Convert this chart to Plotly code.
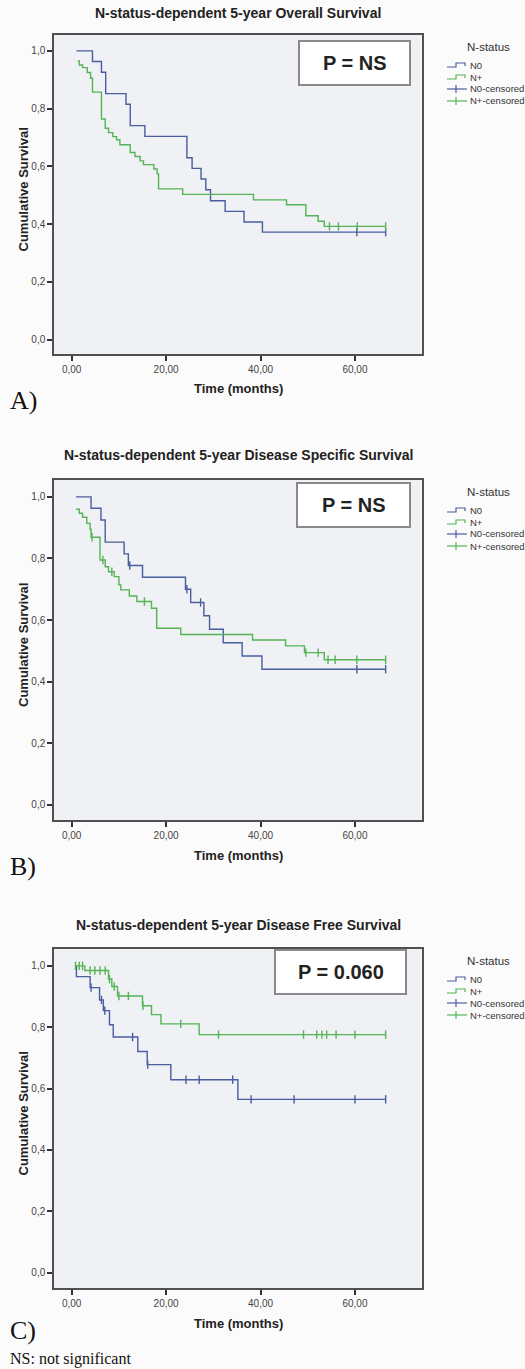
import numpy as np
import plotly.graph_objects as go

W, H = 525, 1369

# ---------------- data (months, cumulative survival) ----------------
# Panel A: Overall Survival
A_N0_time = [1.0, 4.4, 6.3, 7.2, 11.5, 12.4, 15.5, 24.4, 25.5, 27.4, 28.4, 29.4, 32.5, 36.5, 40.4]
A_N0_surv = [1.0, 0.963, 0.926, 0.852, 0.815, 0.741, 0.704, 0.630, 0.593, 0.556, 0.519, 0.481, 0.444, 0.407, 0.372]
A_N0_cens = [60.4, 66.5]
A_Np_time = [1.3, 1.6, 2.3, 3.3, 4.0, 4.4, 6.3, 7.1, 7.8, 8.7, 9.5, 10.2, 12.4, 13.4, 14.5, 15.2,
             17.4, 18.1, 18.4, 23.5, 38.5, 45.5, 49.6, 52.2, 53.5]
A_Np_surv = [0.965, 0.951, 0.942, 0.925, 0.905, 0.857, 0.764, 0.732, 0.717, 0.703, 0.692, 0.675,
             0.648, 0.634, 0.619, 0.606, 0.591, 0.574, 0.522, 0.503, 0.484, 0.467, 0.429, 0.410, 0.392]
A_Np_cens = [54.6, 56.5, 60.5, 66.5]

# Panel B: Disease Specific Survival
B_N0_time = [0.9, 4.1, 6.2, 7.1, 11.1, 12.0, 15.0, 24.1, 25.2, 28.0, 29.2, 32.1, 36.1, 40.3]
B_N0_surv = [1.0, 0.963, 0.925, 0.853, 0.815, 0.777, 0.739, 0.700, 0.657, 0.614, 0.570, 0.526, 0.483, 0.440]
B_N0_cens = [12.3, 24.4, 27.3, 60.4, 66.5]
B_Np_time = [0.9, 1.6, 2.3, 3.2, 3.9, 4.1, 6.0, 7.1, 7.8, 9.0, 10.0, 10.4, 12.2, 13.8, 16.9,
             18.0, 23.1, 38.3, 45.3, 49.3, 53.5]
B_Np_surv = [0.960, 0.947, 0.934, 0.914, 0.895, 0.869, 0.795, 0.773, 0.757, 0.741, 0.714, 0.698,
             0.678, 0.660, 0.638, 0.573, 0.553, 0.535, 0.516, 0.494, 0.471]
B_Np_cens = [4.3, 6.6, 8.5, 15.4, 49.6, 52.2, 54.3, 55.8, 60.4, 66.5]

# Panel C: Disease Free Survival
C_N0_time = [0.9, 1.0, 3.9, 5.9, 6.7, 8.0, 8.8, 14.0, 16.0, 21.0, 35.2]
C_N0_surv = [1.0, 0.965, 0.929, 0.889, 0.854, 0.808, 0.768, 0.721, 0.678, 0.629, 0.565]
C_N0_cens = [4.1, 6.3, 7.0, 12.9, 16.1, 24.2, 27.0, 34.1, 38.0, 47.1, 60.0, 66.5]
C_Np_time = [0.7, 2.8, 7.8, 8.5, 9.7, 15.0, 16.9, 18.9, 27.0]
C_Np_surv = [1.0, 0.985, 0.957, 0.933, 0.902, 0.870, 0.841, 0.811, 0.776]
C_Np_cens = [0.8, 1.6, 2.3, 3.9, 4.9, 6.0, 7.1, 8.0, 9.0, 10.0, 12.0, 15.1, 23.1, 31.1,
             49.1, 51.9, 53.0, 54.0, 56.0, 60.0, 66.5]

titles = ["N-status-dependent 5-year Overall Survival",
          "N-status-dependent 5-year Disease Specific Survival",
          "N-status-dependent 5-year Disease Free Survival"]
p_texts = ["P = NS", "P = NS", "P = 0.060"]
panel_labels = ["A)", "B)", "C)"]
legend_title = "N-status"
legend_labels = ["N0", "N+", "N0-censored", "N+-censored"]
y_tickvals = [0.0, 0.2, 0.4, 0.6, 0.8, 1.0]
y_ticktext = ["0,0", "0,2", "0,4", "0,6", "0,8", "1,0"]
x_tickvals = [0, 20, 40, 60]
x_ticktext = ["0,00", "20,00", "40,00", "60,00"]
footnote = "NS: not significant"

# ---------------- styling ----------------
BLUE = "#4a5d9f"
GREEN = "#55b455"
SANS = "Liberation Sans, Arial, sans-serif"
SERIF = "Liberation Serif, Times New Roman, serif"

def fx(px):
    return px / W

def fy(py):
    return 1 - py / H

# panel geometry in pixels: (top, bottom) of plot box, P-box, panel-label centre
panels = [
    dict(top=35, bottom=354, title_y=13, pbox=(299, 41, 410, 85), label_y=400),
    dict(top=480, bottom=820, title_y=455, pbox=(297, 483, 410, 527), label_y=866),
    dict(top=949, bottom=1288, title_y=925, pbox=(275, 950, 406, 994), label_y=1330),
]
PL, PR = 54, 422

data = [
    (A_N0_time, A_N0_surv, A_N0_cens, A_Np_time, A_Np_surv, A_Np_cens),
    (B_N0_time, B_N0_surv, B_N0_cens, B_Np_time, B_Np_surv, B_Np_cens),
    (C_N0_time, C_N0_surv, C_N0_cens, C_Np_time, C_Np_surv, C_Np_cens),
]

fig = go.Figure()


def step_xy(t, s, cens):
    end = max(cens) if cens else t[-1]
    return list(t) + [end], list(s) + [s[-1]]


def cens_levels(t, s, cens):
    t = np.asarray(t)
    s = np.asarray(s)
    idx = np.searchsorted(t, np.asarray(cens), side="right") - 1
    idx = np.clip(idx, 0, len(s) - 1)
    return s[idx].tolist()


annotations = []
shapes = []

for i, (panel, d) in enumerate(zip(panels, data)):
    k = "" if i == 0 else str(i + 1)
    xa, ya = "x" + k, "y" + k
    n0t, n0s, n0c, npt, nps, npc = d
    for (t, s, c, col) in [(n0t, n0s, n0c, BLUE), (npt, nps, npc, GREEN)]:
        xs, ys = step_xy(t, s, c)
        fig.add_trace(go.Scatter(x=xs, y=ys, mode="lines", line=dict(color=col, width=1.4, shape="hv"),
                                 xaxis=xa, yaxis=ya, showlegend=False, hoverinfo="skip"))
    for (t, s, c, col) in [(n0t, n0s, n0c, BLUE), (npt, nps, npc, GREEN)]:
        fig.add_trace(go.Scatter(x=c, y=cens_levels(t, s, c), mode="markers",
                                 marker=dict(symbol="line-ns", size=6, line=dict(color=col, width=1.4)),
                                 xaxis=xa, yaxis=ya, showlegend=False, hoverinfo="skip"))

    dom_y = [fy(panel["bottom"]), fy(panel["top"])]
    axis_common = dict(showline=True, mirror=True, linecolor="#505050", linewidth=1.5,
                       ticks="outside", ticklen=5, tickwidth=1.5, tickcolor="#333",
                       showgrid=False, zeroline=False,
                       tickfont=dict(family=SANS, size=10, color="#444"))
    fig.update_layout(**{
        "xaxis" + k: dict(domain=[fx(PL), fx(PR)], anchor=ya, range=[-3.75, 74.2],
                          tickvals=x_tickvals, ticktext=x_ticktext, **axis_common),
        "yaxis" + k: dict(domain=dom_y, anchor=xa, range=[-0.05, 1.055],
                          tickvals=y_tickvals, ticktext=y_ticktext, **axis_common),
    })

    cx = (PL + PR) / 2
    # title
    annotations.append(dict(text="<b>%s</b>" % titles[i], x=fx(cx), y=fy(panel["title_y"]),
                            xref="paper", yref="paper", showarrow=False, xanchor="center", yanchor="middle",
                            font=dict(family=SANS, size=14, color="#222")))
    # axis titles
    annotations.append(dict(text="<b>Time (months)</b>", x=fx(cx), y=fy(panel["bottom"] + 35),
                            xref="paper", yref="paper", showarrow=False, xanchor="center", yanchor="middle",
                            font=dict(family=SANS, size=13, color="#222")))
    annotations.append(dict(text="<b>Cumulative Survival</b>", x=fx(23),
                            y=fy((panel["top"] + panel["bottom"]) / 2 - 5),
                            xref="paper", yref="paper", showarrow=False, xanchor="center", yanchor="middle",
                            textangle=-90, font=dict(family=SANS, size=13, color="#222")))
    # panel label
    annotations.append(dict(text=panel_labels[i], x=fx(9), y=fy(panel["label_y"]),
                            xref="paper", yref="paper", showarrow=False, xanchor="left", yanchor="middle",
                            borderpad=0, font=dict(family=SERIF, size=26, color="#111")))
    # P box
    x0, y0, x1, y1 = panel["pbox"]
    shapes.append(dict(type="rect", xref="paper", yref="paper", x0=fx(x0), x1=fx(x1), y0=fy(y1), y1=fy(y0),
                       line=dict(color="#8a8a8a", width=2), fillcolor="white", layer="above"))
    annotations.append(dict(text="<b>%s</b>" % p_texts[i], x=fx((x0 + x1) / 2), y=fy((y0 + y1) / 2),
                            xref="paper", yref="paper", showarrow=False, xanchor="center", yanchor="middle",
                            font=dict(family=SANS, size=20, color="#222")))
    # legend
    top = panel["top"]
    annotations.append(dict(text=legend_title, x=fx(488), y=fy(top + 12), xref="paper", yref="paper",
                            showarrow=False, xanchor="center", yanchor="middle",
                            font=dict(family=SANS, size=11.5, color="#333")))
    cols = [BLUE, GREEN, BLUE, GREEN]
    for j, lab in enumerate(legend_labels):
        yy = top + 30 + 12 * j
        if j < 2:
            path = "M %f %f L %f %f L %f %f L %f %f L %f %f" % (
                fx(447), fy(yy + 2), fx(456), fy(yy + 2), fx(456), fy(yy - 2),
                fx(465), fy(yy - 2), fx(465), fy(yy + 1))
            shapes.append(dict(type="path", xref="paper", yref="paper", path=path,
                               line=dict(color=cols[j], width=1.2)))
        else:
            shapes.append(dict(type="line", xref="paper", yref="paper", x0=fx(447), x1=fx(467),
                               y0=fy(yy), y1=fy(yy), line=dict(color=cols[j], width=1.2)))
            shapes.append(dict(type="line", xref="paper", yref="paper", x0=fx(456), x1=fx(456),
                               y0=fy(yy - 4), y1=fy(yy + 4), line=dict(color=cols[j], width=1.2)))
        annotations.append(dict(text=lab, x=fx(468), y=fy(yy), xref="paper", yref="paper",
                                showarrow=False, xanchor="left", yanchor="middle",
                                font=dict(family=SANS, size=9.5, color="#333")))

annotations.append(dict(text=footnote, x=fx(9), y=fy(1369), xref="paper", yref="paper",
                        showarrow=False, xanchor="left", yanchor="bottom", borderpad=0,
                        font=dict(family=SERIF, size=16, color="#111")))

fig.update_layout(width=W, height=H, margin=dict(l=0, r=0, t=0, b=0),
                  paper_bgcolor="#fcfbfb", plot_bgcolor="#eff1f4",
                  annotations=annotations, shapes=shapes, showlegend=False)

fig.write_html("out.html")
